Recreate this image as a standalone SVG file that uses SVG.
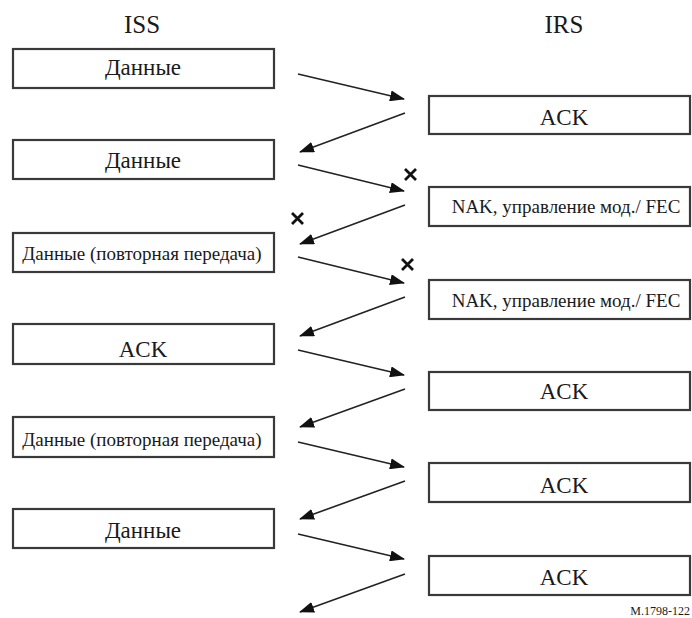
<svg xmlns="http://www.w3.org/2000/svg" width="692" height="618" viewBox="0 0 692 618">
<style>
.box{fill:#fff;stroke:#3a3a3a;stroke-width:2.2}
.t{font-family:"Liberation Serif","Times New Roman",serif;fill:#1a1a1a;text-anchor:middle}
.hd{font-size:25px}
.big{font-size:23px}
.sm{font-size:19px}
.ft{font-size:12px;text-anchor:end}
.ln{stroke:#222;stroke-width:1.6;fill:none}
.x{stroke:#111;stroke-width:2.8;fill:none}
</style>
<defs>
<marker id="ah" markerUnits="userSpaceOnUse" markerWidth="15" markerHeight="11" refX="14" refY="5.5" orient="auto">
<path d="M0,0 L15,5.5 L0,11 Z" fill="#111"/>
</marker>
</defs>
<rect width="692" height="618" fill="#fff"/>
<text class="t hd" x="142" y="33">ISS</text>
<text class="t hd" x="564" y="33">IRS</text>

<g id="iss1"><rect class="box" x="13" y="49" width="261" height="39"/><text class="t big" x="143" y="75">Данные</text></g>
<g id="iss2"><rect class="box" x="13" y="140" width="261" height="39"/><text class="t big" x="143" y="168">Данные</text></g>
<g id="iss3"><rect class="box" x="13" y="233" width="261" height="39"/><text class="t sm" x="142" y="260">Данные (повторная передача)</text></g>
<g id="iss4"><rect class="box" x="13" y="324" width="261" height="40"/><text class="t big" x="143" y="357">ACK</text></g>
<g id="iss5"><rect class="box" x="13" y="417" width="261" height="40"/><text class="t sm" x="142" y="446">Данные (повторная передача)</text></g>
<g id="iss6"><rect class="box" x="13" y="509" width="261" height="39"/><text class="t big" x="143" y="538">Данные</text></g>

<g id="irs1"><rect class="box" x="429" y="96" width="261" height="38"/><text class="t big" x="564" y="125">ACK</text></g>
<g id="irs2"><rect class="box" x="429" y="187" width="261" height="39"/><text class="t sm" x="566" y="213">NAK, управление мод./ FEC</text></g>
<g id="irs3"><rect class="box" x="429" y="280" width="261" height="39"/><text class="t sm" x="566" y="307">NAK, управление мод./ FEC</text></g>
<g id="irs4"><rect class="box" x="429" y="372" width="261" height="38"/><text class="t big" x="564" y="399">ACK</text></g>
<g id="irs5"><rect class="box" x="429" y="463" width="261" height="39"/><text class="t big" x="564" y="493">ACK</text></g>
<g id="irs6"><rect class="box" x="429" y="556" width="261" height="39"/><text class="t big" x="564" y="585">ACK</text></g>
<text class="t ft" x="690" y="615">M.1798-122</text>

<g id="connectors">
<line class="ln" x1="298" y1="74" x2="404" y2="99" marker-end="url(#ah)"/>
<line class="ln" x1="405" y1="113" x2="300" y2="152" marker-end="url(#ah)"/>
<line class="ln" x1="298" y1="165" x2="404" y2="191" marker-end="url(#ah)"/>
<line class="ln" x1="405" y1="205" x2="300" y2="244" marker-end="url(#ah)"/>
<line class="ln" x1="298" y1="257" x2="404" y2="283" marker-end="url(#ah)"/>
<line class="ln" x1="405" y1="297" x2="300" y2="336" marker-end="url(#ah)"/>
<line class="ln" x1="298" y1="350" x2="404" y2="375" marker-end="url(#ah)"/>
<line class="ln" x1="405" y1="389" x2="300" y2="427" marker-end="url(#ah)"/>
<line class="ln" x1="298" y1="442" x2="404" y2="467" marker-end="url(#ah)"/>
<line class="ln" x1="405" y1="481" x2="300" y2="519" marker-end="url(#ah)"/>
<line class="ln" x1="298" y1="534" x2="404" y2="559" marker-end="url(#ah)"/>
<line class="ln" x1="405" y1="574" x2="300" y2="612" marker-end="url(#ah)"/>
</g>
<g id="losses">
<path class="x" d="M405,169 L416,180 M416,169 L405,180"/>
<path class="x" d="M292,213 L303,224 M303,213 L292,224"/>
<path class="x" d="M402,259 L413,270 M413,259 L402,270"/>
</g>
</svg>
